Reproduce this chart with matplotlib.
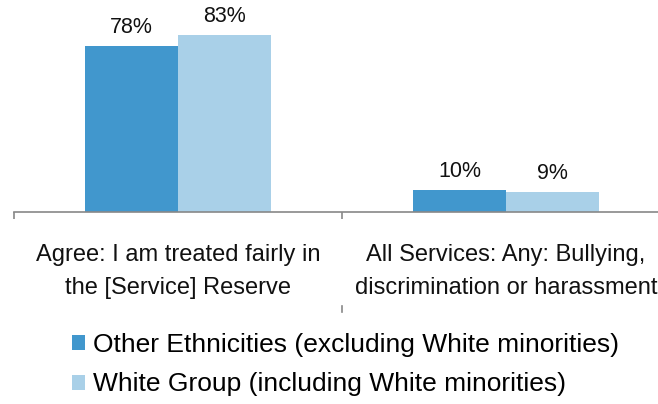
import matplotlib.pyplot as plt
plt.switch_backend('agg')
import numpy as np
from matplotlib.lines import Line2D

plt.rcParams['font.family'] = ['Liberation Sans', 'DejaVu Sans']

categories = ['Agree: I am treated fairly in\nthe [Service] Reserve',
              'All Services: Any: Bullying,\ndiscrimination or harassment']
series_names = ['Other Ethnicities (excluding White minorities)',
                'White Group (including White minorities)']
other_eth = [78, 10]
white_grp = [83, 9]
colours = ['#4197CD', '#A9D0E8']

W, H = 658, 404
fig = plt.figure(figsize=(W / 100, H / 100), dpi=100, facecolor='w')
# plot area runs past the right edge of the figure
ax = fig.add_axes([14 / W, (H - 211.5) / H, 656 / W, 192 / H])
ax.set_xlim(0, 2)
ax.set_ylim(0, 90.5)

x = np.arange(len(categories)) + 0.5
bw = 0.284
b1 = ax.bar(x - bw / 2, other_eth, bw, color=colours[0], label=series_names[0])
b2 = ax.bar(x + bw / 2, white_grp, bw, color=colours[1], label=series_names[1])

for bars, vals in ((b1, other_eth), (b2, white_grp)):
    for r, v in zip(bars, vals):
        ax.annotate('%d%%' % v, (r.get_x() + r.get_width() / 2, v),
                    xytext=(0, 6), textcoords='offset points',
                    ha='center', va='bottom', fontsize=15.5, color='#111111')

for s in ['top', 'right', 'left']:
    ax.spines[s].set_visible(False)
ax.spines['bottom'].set_color('#888888')
ax.spines['bottom'].set_linewidth(1.2)
ax.set_yticks([])
ax.set_xticks([0, 1, 2])
ax.set_xticklabels([])
ax.tick_params(axis='x', length=5, width=1.2, color='#888888', direction='out')

for xi, lab in zip(x, categories):
    ax.text(xi, -0.313, lab, transform=ax.get_xaxis_transform(), ha='center',
            va='center', fontsize=17, linespacing=1.6, color='#111111')

# divider below the category labels
fig.add_artist(Line2D([342 / W, 342 / W], [(H - 312) / H, (H - 306) / H],
                      color='#888888', lw=1.2))

fig.legend(handles=[b1, b2], labels=series_names, loc='upper left',
           bbox_to_anchor=(61 / W, 1 - 322 / H), frameon=False, fontsize=19,
           handlelength=0.5, handleheight=0.5, handletextpad=0.3,
           labelspacing=0.6, borderaxespad=0)

plt.savefig('out.png', dpi=100)
